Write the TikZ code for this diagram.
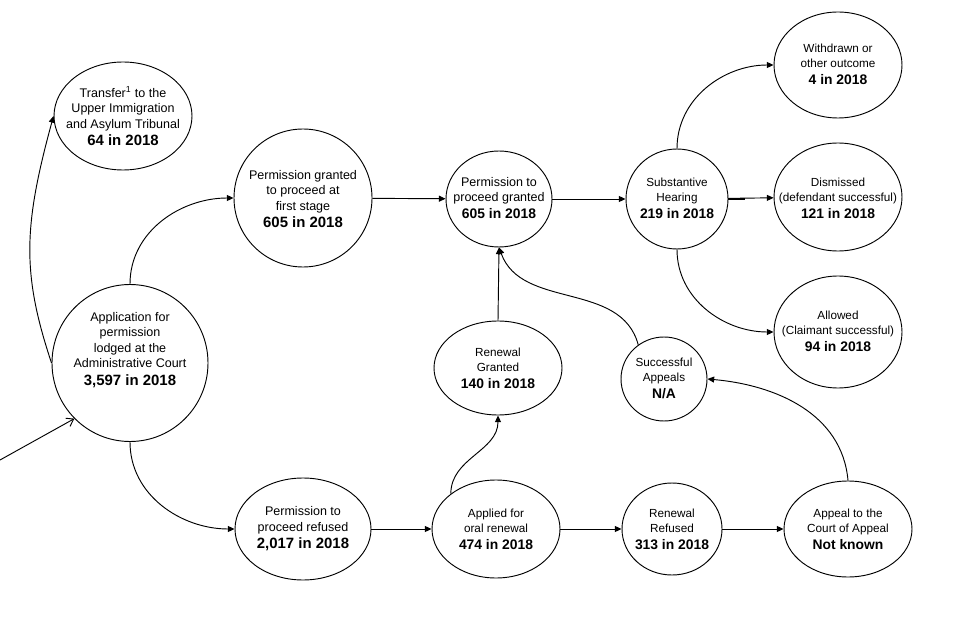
\documentclass[tikz,border=0pt]{standalone}
\usepackage{fontspec}
\setmainfont{Liberation Sans}
\usetikzlibrary{shapes.geometric,arrows.meta}
\newcommand\yr[1]{{\fontsize{11.2}{13}\selectfont\bfseries #1}}
\newcommand\ys[1]{{\fontsize{10.4}{12.5}\selectfont\bfseries #1}}
\begin{document}
\begin{tikzpicture}[x=0.75pt,y=0.75pt,
  st/.style={draw, ellipse, line width=0.7pt, inner sep=0pt},
  sz/.style 2 args={minimum width=#1*0.75pt, minimum height=#2*0.75pt},
  big/.style={inner sep=0pt, align=center, font=\fontsize{9.4}{11.6}\selectfont},
  small/.style={inner sep=0pt, align=center, font=\fontsize{8.8}{11.2}\selectfont},
  arr/.style={line width=0.7pt, -{Triangle[length=5pt,width=4.5pt]}},
  inarr/.style={line width=0.7pt, -{Straight Barb[length=5pt,width=7pt]}}]
\useasboundingbox (0,0) rectangle (960,640);
\fill[white] (0,0) rectangle (960,640);
% ellipses
\node[st, sz={138}{108}] (tr) at (123,524) {};
\node[st, sz={138}{138}] (pg1) at (303,442) {};
\node[st, sz={156}{157}] (app) at (130,277) {};
\node[st, sz={136}{102}] (ref) at (303,111) {};
\node[st, sz={106}{96}] (pgr) at (499,441) {};
\node[st, sz={102}{100}] (sh) at (677,441) {};
\node[st, sz={128}{106}] (wd) at (838,575) {};
\node[st, sz={128}{108}] (dis) at (838,443) {};
\node[st, sz={128}{112}] (alw) at (838,308) {};
\node[st, sz={128}{94}] (rg) at (498,272) {};
\node[st, sz={86}{84}] (sa) at (664,261) {};
\node[st, sz={128}{98}] (aor) at (496,111) {};
\node[st, sz={100}{92}] (rr) at (672,111) {};
\node[st, sz={128}{96}] (ac) at (848,111) {};
% texts
\node[big] (trt) at (123,524)
  {Transfer\textsuperscript{1} to the\\Upper Immigration\\and Asylum Tribunal\\[1.5pt]\yr{64 in 2018}};
\node[big] (pg1t) at (303,441)
  {Permission granted\\to proceed at\\first stage\\[1.5pt]\yr{605 in 2018}};
\node[big] (appt) at (130,290)
  {Application for\\permission\\lodged at the\\Administrative Court\\[1.5pt]\yr{3,597 in 2018}};
\node[big] (reft) at (303,111)
  {Permission to\\proceed refused\\[1.5pt]\yr{2,017 in 2018}};
\node[big] (pgrt) at (499,442)
  {Permission to\\proceed granted\\[1.5pt]\ys{605 in 2018}};
\node[small] (sht) at (677,441.5)
  {Substantive\\Hearing\\[1.5pt]\ys{219 in 2018}};
\node[small] (wdt) at (838,576)
  {Withdrawn or\\other outcome\\[1.5pt]\ys{4 in 2018}};
\node[small] (dist) at (838,441.5)
  {Dismissed\\(defendant successful)\\[1.5pt]\ys{121 in 2018}};
\node[small] (alwt) at (838,309)
  {Allowed\\(Claimant successful)\\[1.5pt]\ys{94 in 2018}};
\node[small] (rgt) at (498,271.5)
  {Renewal\\Granted\\[1.5pt]\ys{140 in 2018}};
\node[small] (sat) at (664,262) {Successful\\Appeals\\[1.5pt]\ys{N/A}};
\node[small] (aort) at (496,111)
  {Applied for\\oral renewal\\[1.5pt]\ys{474 in 2018}};
\node[small] (rrt) at (672,111)
  {Renewal\\Refused\\[1.5pt]\ys{313 in 2018}};
\node[small] (act) at (848,111)
  {Appeal to the\\Court of Appeal\\[1.5pt]\ys{Not known}};
\coordinate (start) at (0,180);
% connectors
\draw[inarr] (start) -- (app.225);
\draw[arr] (app.west) .. controls +(-30,90) and +(-30,-110) .. (tr.west);
\draw[arr] (app.north) to[out=90,in=180] (pg1.west);
\draw[arr] (app.south) to[out=-90,in=180] (ref.west);
\draw[arr] (pg1) -- (pgr);
\draw[arr] (pgr) -- (sh);
\draw[arr] (sh.north) to[out=90,in=180] (wd.west);
\draw[arr] (sh) -- (dis);
\draw[line width=1.4pt] (sh.east) -- ++(17,0);
\draw[arr] (sh.south) to[out=-90,in=180] (alw.west);
\draw[arr] (rg.north) -- (pgr.south);
\draw[arr] (sa.127) to[out=105,in=-70] (pgr.south);
\draw[arr] (ref) -- (aor);
\draw[arr] (aor.142) to[out=90,in=-90] (rg.south);
\draw[arr] (aor) -- (rr);
\draw[arr] (rr) -- (ac);
\draw[arr] (ac.north) to[out=95,in=-5] (sa.east);
\end{tikzpicture}
\end{document}
